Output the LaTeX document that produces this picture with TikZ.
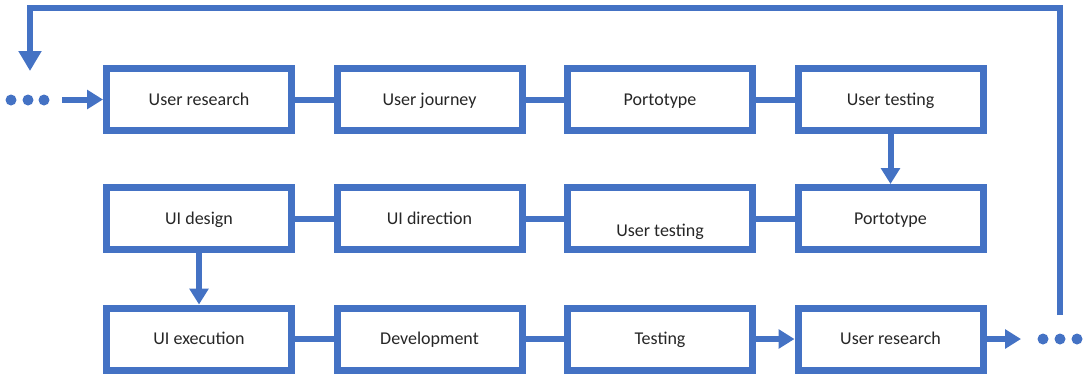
\documentclass[tikz,border=0pt]{standalone}
\usepackage{fontspec}
\setmainfont{Carlito}
\usetikzlibrary{arrows.meta}
\definecolor{oblue}{HTML}{4472C4}
\begin{document}
\begin{tikzpicture}[x=0.75pt,y=-0.75pt,
  stepbox/.style={draw=oblue,line width=5.25pt,fill=white,rectangle,
    minimum width=138.75pt,minimum height=46.5pt,inner sep=0pt,
    text height=8.7pt,text depth=0pt,
    font=\fontsize{13.5pt}{16pt}\selectfont,text=black!85},
  stext/.style={font=\fontsize{13.5pt}{16pt}\selectfont,text=black!85,inner sep=0pt,
    text height=8.7pt,text depth=0pt},
  link/.style={draw=oblue,line width=4.5pt},
  flow/.style={link,-{Triangle[width=14pt,length=12pt]}},
  bigflow/.style={link,line join=miter,-{Triangle[width=16.5pt,length=15pt]}},
  dot/.style={circle,fill=oblue,minimum size=8.25pt,inner sep=0pt}]
\useasboundingbox (0,0) rectangle (1085,376);
% row 1
\node[stepbox] (a1) at (199,99.5) {User research};
\node[stepbox] (a2) at (429.5,99.5) {User journey};
\node[stepbox] (a3) at (660,99.5) {Portotype};
\node[stepbox] (a4) at (890.5,99.5) {User testing};
% row 2
\node[stepbox] (b1) at (199,218.5) {UI design};
\node[stepbox] (b2) at (429.5,218.5) {UI direction};
\node[stepbox,label={[stext,yshift=-9pt]center:User testing}] (b3) at (660,218.5) {};
\node[stepbox] (b4) at (890.5,218.5) {Portotype};
% row 3
\node[stepbox] (c1) at (199,339) {UI execution};
\node[stepbox] (c2) at (429.5,339) {Development};
\node[stepbox] (c3) at (660,339) {Testing};
\node[stepbox] (c4) at (890.5,339) {User research};
% dots
\node[dot] (l1) at (11,100) {};
\node[dot] (l2) at (28,100) {};
\node[dot] (l3) at (44,100) {};
\node[dot] (r1) at (1043,339) {};
\node[dot] (r2) at (1060,339) {};
\node[dot] (r3) at (1077,339) {};
\coordinate (lstart) at (62,99.5);
\coordinate (rend) at (1021,339);
\coordinate (rtop) at (1060,315);
\coordinate (ltip) at (30,71);
% connectors
\draw[link] (a1) -- (a2);
\draw[link] (a2) -- (a3);
\draw[link] (a3) -- (a4);
\draw[link] (b1) -- (b2);
\draw[link] (b2) -- (b3);
\draw[link] (b3) -- (b4);
\draw[link] (c1) -- (c2);
\draw[link] (c2) -- (c3);
\draw[flow] (c3) -- (c4);
\draw[flow] (c4) -- (rend);
\draw[flow] (a4) -- (b4);
\draw[flow] (b1) -- (c1);
\draw[flow] (lstart) -- (a1);
\draw[bigflow] (rtop) -- (1060,8) -- (30,8) -- (ltip);
\end{tikzpicture}
\end{document}
